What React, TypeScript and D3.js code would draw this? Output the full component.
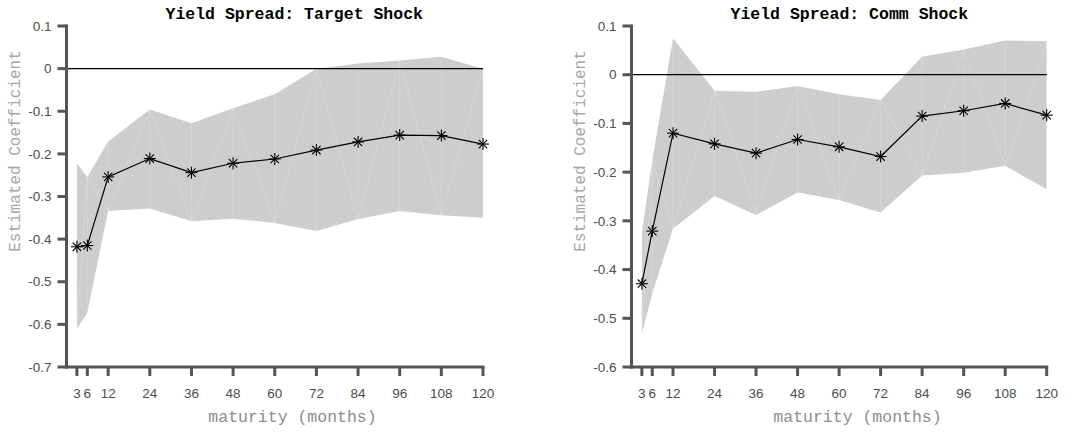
import React from 'react';
import * as d3 from 'd3';

const maturities = [3, 6, 12, 24, 36, 48, 60, 72, 84, 96, 108, 120];
const xTickValues = [3, 6, 12, 24, 36, 48, 60, 72, 84, 96, 108, 120];

const targetEst = [-0.418, -0.415, -0.254, -0.211, -0.244, -0.222, -0.212, -0.191, -0.172, -0.156, -0.157, -0.177];
const targetUpper = [-0.222, -0.254, -0.171, -0.096, -0.128, -0.093, -0.060, 0.0, 0.012, 0.019, 0.028, 0.0];
const targetLower = [-0.610, -0.572, -0.334, -0.328, -0.358, -0.352, -0.362, -0.381, -0.353, -0.334, -0.344, -0.350];

const commEst = [-0.429, -0.321, -0.120, -0.142, -0.161, -0.133, -0.148, -0.168, -0.085, -0.074, -0.059, -0.083];
const commUpper = [-0.325, -0.176, 0.075, -0.033, -0.035, -0.023, -0.040, -0.052, 0.037, 0.052, 0.070, 0.069];
const commLower = [-0.531, -0.449, -0.316, -0.249, -0.288, -0.242, -0.257, -0.283, -0.207, -0.201, -0.187, -0.235];

const targetYTicks = [0.1, 0, -0.1, -0.2, -0.3, -0.4, -0.5, -0.6, -0.7];
const commYTicks = [0.1, 0, -0.1, -0.2, -0.3, -0.4, -0.5, -0.6];

const AXIS = '#555555';
const MONO = '"Liberation Mono", "Courier New", monospace';
const SANS = '"Liberation Sans", Arial, Helvetica, sans-serif';

const fmt = (d: number) => (Math.abs(d) < 1e-9 ? '0' : d3.format('.1f')(d).replace('−', '-'));

type PanelProps = {
  title: string;
  est: number[];
  upper: number[];
  lower: number[];
  yTicks: number[];
  left: number;
  right: number;
  yLabelX: number;
};

function Star({ x, y }: { x: number; y: number }) {
  const r = 6;
  const d = r * 0.7;
  return (
    <g stroke="#000" strokeWidth={1.1}>
      <line x1={x - r} y1={y} x2={x + r} y2={y} />
      <line x1={x} y1={y - r} x2={x} y2={y + r} />
      <line x1={x - d} y1={y - d} x2={x + d} y2={y + d} />
      <line x1={x - d} y1={y + d} x2={x + d} y2={y - d} />
    </g>
  );
}

function Panel({ title, est, upper, lower, yTicks, left, right, yLabelX }: PanelProps) {
  const top = 26;
  const bottom = 367;
  const x = d3.scaleLinear().domain([0, 120]).range([left, right]);
  const y = d3.scaleLinear().domain([d3.min(yTicks)!, d3.max(yTicks)!]).range([bottom, top]);

  const band = d3.area<number>()
    .x((_, i) => x(maturities[i]))
    .y0((_, i) => y(lower[i]))
    .y1((_, i) => y(upper[i]));
  const line = d3.line<number>()
    .x((_, i) => x(maturities[i]))
    .y(d => y(d));

  // faint seams like the original fill rendering
  const seams: [number, number, number, number][] = [];
  maturities.forEach((m, i) => {
    seams.push([x(m), y(upper[i]), x(m), y(lower[i])]);
    if (i < maturities.length - 1) {
      const n = maturities[i + 1];
      if (i % 2 === 0) seams.push([x(m), y(lower[i]), x(n), y(upper[i + 1])]);
      else seams.push([x(m), y(upper[i]), x(n), y(lower[i + 1])]);
    }
  });

  const tickLen = 9;

  return (
    <g>
      <path d={band(est) || ''} fill="#cdcdcd" stroke="none" />
      {seams.map((s, i) => (
        <line key={i} x1={s[0]} y1={s[1]} x2={s[2]} y2={s[3]} stroke="#ffffff" strokeOpacity={0.3} strokeWidth={0.6} />
      ))}
      <line x1={x(0)} x2={x(120)} y1={y(0)} y2={y(0)} stroke="#000" strokeWidth={1.2} />
      <path d={line(est) || ''} fill="none" stroke="#000" strokeWidth={1.2} />
      {est.map((v, i) => <Star key={i} x={x(maturities[i])} y={y(v)} />)}

      {/* axes */}
      <line x1={x(0)} x2={x(0)} y1={top - 1.5} y2={bottom + 1.5} stroke={AXIS} strokeWidth={3} />
      <line x1={x(0) - 1.5} x2={x(120) + 1.5} y1={bottom} y2={bottom} stroke={AXIS} strokeWidth={3} />
      {yTicks.map(t => (
        <g key={t}>
          <line x1={x(0) - tickLen} x2={x(0)} y1={y(t)} y2={y(t)} stroke={AXIS} strokeWidth={3} />
          <text x={x(0) - 15} y={y(t)} dy="0.35em" textAnchor="end" fontFamily={SANS} fontSize={13.5} fill="#4d4d4d">
            {fmt(t)}
          </text>
        </g>
      ))}
      {xTickValues.map(t => (
        <g key={t}>
          <line x1={x(t)} x2={x(t)} y1={bottom} y2={bottom + tickLen} stroke={AXIS} strokeWidth={3} />
          <text x={x(t)} y={398} textAnchor="middle" fontFamily={SANS} fontSize={13.5} fill="#4d4d4d">
            {t}
          </text>
        </g>
      ))}

      <text x={left + 99} y={19} fontFamily={MONO} fontWeight="bold" fontSize={16.5} fill="#000">
        {title}
      </text>
      <text x={left + 226} y={422} textAnchor="middle" fontFamily={MONO} fontSize={16.5} fill="#8c8c8c">
        maturity (months)
      </text>
      <text
        transform={`translate(${yLabelX},151) rotate(-90)`}
        textAnchor="middle"
        dy="0.3em"
        fontFamily={MONO}
        fontSize={16}
        fill="#a6a6a6"
      >
        Estimated Coefficient
      </text>
    </g>
  );
}

export default function App() {
  return (
    <svg width={1081} height={432} style={{ position: 'absolute', left: 0, top: 0, background: '#fff' }}>
      <Panel
        title="Yield Spread: Target Shock"
        est={targetEst}
        upper={targetUpper}
        lower={targetLower}
        yTicks={targetYTicks}
        left={66.5}
        right={483}
        yLabelX={15}
      />
      <Panel
        title="Yield Spread: Comm Shock"
        est={commEst}
        upper={commUpper}
        lower={commLower}
        yTicks={commYTicks}
        left={631.5}
        right={1046.7}
        yLabelX={580}
      />
    </svg>
  );
}
